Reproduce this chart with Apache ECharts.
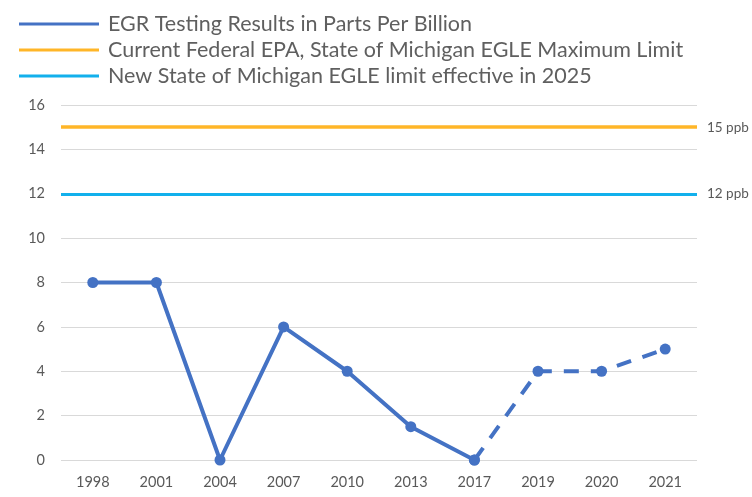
<!DOCTYPE html>
<html><head><meta charset="utf-8">
<script src="https://cdn.jsdelivr.net/npm/echarts@6/dist/echarts.min.js"></script>
<style>html,body{margin:0;padding:0;background:#fff}#c{width:752px;height:497px}</style>
</head><body><div id="c"></div>
<script>
var years = ['1998','2001','2004','2007','2010','2013','2017','2019','2020','2021'];
var results = [8, 8, 0, 6, 4, 1.5, 0, 4, 4, 5];
var solidUntil = 6; // index of 2017
var federalLimit = 15;
var newLimit = 12;
var seriesNames = ['EGR Testing Results in Parts Per Billion',
  'Current Federal EPA, State of Michigan EGLE Maximum Limit',
  'New State of Michigan EGLE limit effective in 2025'];
var limitLabels = ['15 ppb', '12 ppb'];

var solid = results.map(function(v,i){ return i <= solidUntil ? v : null; });
var dashed = results.map(function(v,i){ return i >= solidUntil ? v : null; });
var blue = '#4472C4', orange = '#FFB628', cyan = '#12B0EC';
var font = 'Lato';

var chart = echarts.init(document.getElementById('c'));
chart.setOption({
  animation: false,
  textStyle: {fontFamily: font},
  legend: {
    orient: 'vertical', left: 14, top: 8,
    icon: 'rect', itemWidth: 80, itemHeight: 3, itemGap: 4,
    textStyle: {fontSize: 21.5, lineHeight: 22, color: '#5F5F5F', fontFamily: font, padding: [0,0,0,4]},
    data: seriesNames
  },
  grid: {left: 61, right: 55, top: 105, bottom: 37},
  xAxis: {
    type: 'category', data: years, boundaryGap: true,
    axisLine: {show: false}, axisTick: {show: false},
    axisLabel: {color: '#595959', fontSize: 14.5, margin: 15}
  },
  yAxis: {
    type: 'value', min: 0, max: 16, interval: 2,
    axisLine: {show: false}, axisTick: {show: false},
    axisLabel: {color: '#595959', fontSize: 14.5, margin: 16},
    splitLine: {lineStyle: {color: '#D9D9D9', width: 1}}
  },
  series: [
    {name: seriesNames[0], type: 'line', data: solid, color: blue,
     lineStyle: {width: 4}, symbol: 'circle', symbolSize: 11,
     itemStyle: {color: blue}, z: 5},
    {name: seriesNames[0] + ' ', type: 'line', data: dashed, color: blue,
     lineStyle: {width: 4, type: [15, 12]}, symbol: 'circle', symbolSize: 11,
     itemStyle: {color: blue}, z: 5},
    {name: seriesNames[1], type: 'line', data: [], color: orange,
     markLine: {symbol: 'none', silent: true,
       lineStyle: {color: orange, width: 3.5, type: 'solid'},
       label: {position: 'end', formatter: limitLabels[0], color: '#595959', fontSize: 13.5, distance: 10},
       data: [{yAxis: federalLimit}]}},
    {name: seriesNames[2], type: 'line', data: [], color: cyan,
     markLine: {symbol: 'none', silent: true,
       lineStyle: {color: cyan, width: 3, type: 'solid'},
       label: {position: 'end', formatter: limitLabels[1], color: '#595959', fontSize: 13.5, distance: 10},
       data: [{yAxis: newLimit}]}}
  ]
});
</script></body></html>
